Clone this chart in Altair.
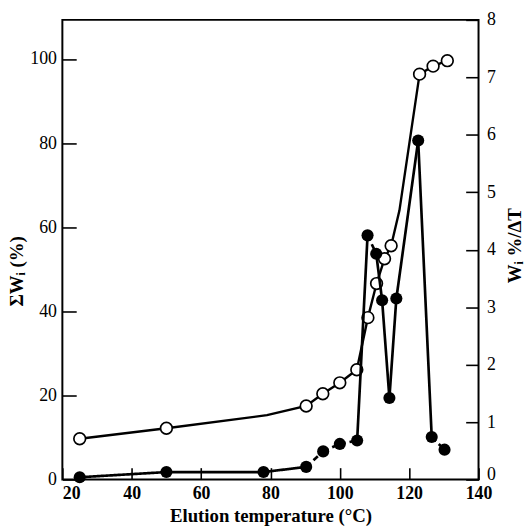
import altair as alt
import pandas as pd

# Cumulative weight (open circles, left axis)
open_t = [25, 50, 79, 90.3, 95.1, 100, 104.9, 108.1, 110.6, 112.9, 114.8, 117.2, 123, 126.9, 131]
open_v = [9.7, 12.2, 15.3, 17.5, 20.4, 23.0, 26.1, 38.5, 46.6, 52.5, 55.6, 64.0, 96.4, 98.3, 99.6]
open_mark = [True, True, False, True, True, True, True, True, True, True, True, False, True, True, True]

# Differential weight (filled circles, right axis)
fill_t = [25, 50, 78, 90.3, 95.2, 100, 105, 108, 110.5, 112.2, 114.3, 116.3, 122.6, 126.5, 130.2]
fill_v = [0.04, 0.13, 0.13, 0.22, 0.49, 0.62, 0.68, 4.25, 3.93, 3.12, 1.42, 3.15, 5.9, 0.74, 0.52]
seg_style = ["solid", "solid", "solid", "dash", "dash", "dash", "solid", "dash",
             "solid", "solid", "solid", "solid", "solid", "dash"]

x_labels = [20, 40, 60, 80, 100, 120, 140]
left_labels = [0, 20, 40, 60, 80, 100]
right_labels = [0, 1, 2, 3, 4, 5, 6, 7, 8]

W, H = 421, 465
X_MIN, X_MAX, YL_MAX, YR_MAX = 20, 140, 109.3, 8
TX, TL, TR = 12, 14, 13  # inward tick lengths (px)

df_open = pd.DataFrame({"t": open_t, "v": open_v, "m": open_mark})
df_fill = pd.DataFrame({"t": fill_t, "v": fill_v})
df_seg = pd.DataFrame({
    "t1": fill_t[:-1], "t2": fill_t[1:],
    "v1": fill_v[:-1], "v2": fill_v[1:],
    "style": seg_style,
})

xs = alt.Scale(domain=[X_MIN, X_MAX], nice=False, zero=False)
yls = alt.Scale(domain=[0, YL_MAX], nice=False)
yrs = alt.Scale(domain=[0, YR_MAX], nice=False)

ax_x = alt.Axis(values=x_labels, title="Elution temperature (°C)",
                offset=-TX, ticks=True, tickSize=TX, tickWidth=1.6, tickColor="black",
                domain=False, labelFontWeight="bold", labelPadding=5, titlePadding=4,
                grid=False, labelFlush=False, labelOverlap=False, format="d",
                labelAlign={"condition": {"test": "datum.value == 20", "value": "left"},
                            "value": "center"})
ax_l = alt.Axis(values=left_labels, orient="left",
                offset=-TL, ticks=True, tickSize=TL, tickWidth=1.6, tickColor="black",
                domain=False, labelPadding=6,
                grid=False, labelFlush=False, labelOverlap=False, format="d",
                title="ΣWᵢ (%)", titleX=-46 - TL, titleY=254, titleAngle=270,
                titleAlign="center", titleBaseline="middle")
ax_r = alt.Axis(values=right_labels, orient="right",
                offset=-TR, ticks=True, tickSize=TR, tickWidth=1.6, tickColor="black",
                domain=False, labelPadding=8,
                grid=False, labelFlush=False, labelOverlap=False, format="d",
                labelBaseline={"condition": {"test": "datum.value == 0", "value": "alphabetic"},
                               "value": "middle"},
                title="Wᵢ %/ΔT", titleX=36 + TR, titleY=228, titleAngle=270,
                titleAlign="center", titleBaseline="middle")

X = lambda f: alt.X(f, type="quantitative", scale=xs, axis=ax_x)

open_line = alt.Chart(df_open).mark_line(color="black", strokeWidth=2.4).encode(
    x=X("t"), y=alt.Y("v:Q", scale=yls, axis=ax_l))
open_pts = alt.Chart(df_open).transform_filter("datum.m").mark_point(
    shape="circle", filled=True, fill="white", stroke="black", strokeWidth=1.7,
    size=140, opacity=1).encode(
    x=X("t"), y=alt.Y("v:Q", scale=yls, axis=ax_l))

left = alt.layer(open_line, open_pts)

segs = alt.Chart(df_seg).mark_rule(color="black", strokeWidth=2.7).encode(
    x=X("t1"), x2="t2",
    y=alt.Y("v1:Q", scale=yrs, axis=ax_r), y2="v2",
    strokeDash=alt.StrokeDash("style:N",
                              scale=alt.Scale(domain=["solid", "dash"], range=[[1, 0], [6, 4]]),
                              legend=None))
fill_pts = alt.Chart(df_fill).mark_point(
    shape="circle", filled=True, color="black", size=150, opacity=1).encode(
    x=X("t"), y=alt.Y("v:Q", scale=yrs, axis=ax_r))

right = alt.layer(segs, fill_pts)

chart = alt.layer(left, right).resolve_scale(y="independent").properties(
    width=W, height=H, padding=0, background="white"
).configure_view(stroke="black", strokeWidth=2).configure_axis(
    labelFont="Liberation Serif", labelFontSize=18, labelColor="black",
    titleFont="Liberation Serif", titleFontSize=19, titleFontWeight="bold",
    titleColor="black")

chart.save("out.html", embed_options={"renderer": "svg", "actions": False})
